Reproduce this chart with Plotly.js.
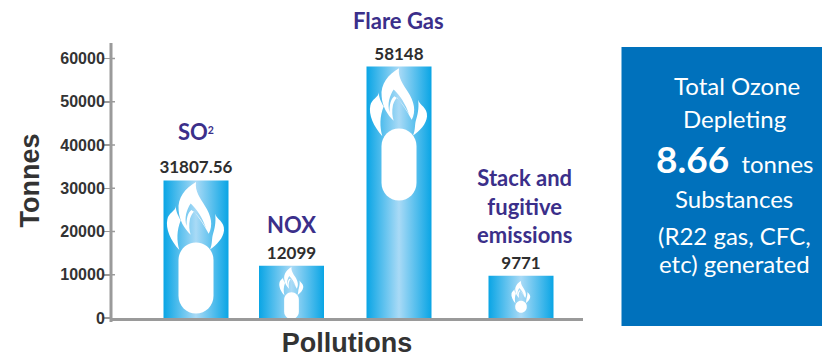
<!DOCTYPE html>
<html><head><meta charset="utf-8">
<script src="https://cdn.plot.ly/plotly-3.0.1.min.js"></script>
<style>html,body{margin:0;padding:0;background:#fff}</style></head>
<body><div id="chart" style="width:822px;height:358px"></div>
<script>
// Data
const categories = ['<b>SO<span style="font-size:15px"><sup>2</sup></span></b>', '<b>NOX</b>', '<b>Flare Gas</b>', '<b>Stack and<br>fugitive<br>emissions</b>'];
const tonnes = [31807.56, 12099, 58148, 9771];
const tickValues = [0, 10000, 20000, 30000, 40000, 50000, 60000];
const panelLines = ['Total Ozone', 'Depleting',
  '<b><span style="font-size:37px">8.66</span></b>  tonnes',
  'Substances', '(R22 gas, CFC,', 'etc) generated'];

// Layout
const W = 822, H = 358, L = 111, R = 583, T = 43, B = 318;
const barCenters = [196, 291.5, 399, 521];
const labelX = [196, 291, 398, 524];
const labelBottomPx = [147, 240, 36, 250];
const iconScale = [1, 0.42, 1, 0.33];
const capsuleLen = [71, 64, 72, 36];
const iconOffset = [1, 1, 1, 5];
const panelY = [85, 118, 158, 198, 235, 263];
const panelX = [737, 734, 734, 734, 734, 734];
const yMax = 60000 * (B - T) / (B - 58.5);
const xp = v => (v - L) / (R - L), yp = v => (B - v) / (B - T);

// flame outlines are drawn in a local grid: 3 units = 1 px at full size, origin (108,18)
const flameParts = [
 [[108,20],[76,38,52,68,56,105],[58,135,72,158,92,178],[88,165,86,150,90,130],[94,118,98,112,102,108],[118,128,132,148,146,175],[160,150,154,120,134,90],[122,70,104,48,108,20]],
 [[92,84],[80,102,72,128,80,152],[78,130,84,112,94,104],[108,112,125,134,138,158],[128,128,110,100,92,84]],
 [[48,92],[46,108,26,112,22,132],[16,160,32,195,58,224],[50,195,50,165,62,135],[54,120,46,105,48,92]],
 [[165,115],[170,132,194,138,192,165],[190,188,170,208,150,222],[158,205,154,190,160,172],[166,155,168,130,165,115]]
];
function flamePath(s, off) {
  const pt = (x, y) => ((x - 108) / 3 * s).toFixed(2) + ',' + (-off - (y - 18) / 3 * s).toFixed(2);
  return flameParts.map(p => p.map((c, i) => {
    if (i === 0) return 'M' + pt(c[0], c[1]);
    return 'C' + pt(c[0], c[1]) + ' ' + pt(c[2], c[3]) + ' ' + pt(c[4], c[5]);
  }).join(' ') + ' Z').join(' ');
}
function capsulePath(s, off, len) {
  const r = 17.5 * s, t = -off - 61 * s, b = t - len, k = r * 0.5523;
  const f = v => v.toFixed(2);
  return `M${f(-r)},${f(t - r)} C${f(-r)},${f(t - r + k)} ${f(-k)},${f(t)} 0,${f(t)} ` +
    `C${f(k)},${f(t)} ${f(r)},${f(t - r + k)} ${f(r)},${f(t - r)} ` +
    `L${f(r)},${f(b + r)} C${f(r)},${f(b + r - k)} ${f(k)},${f(b)} 0,${f(b)} ` +
    `C${f(-k)},${f(b)} ${f(-r)},${f(b + r - k)} ${f(-r)},${f(b + r)} Z`;
}

const shapes = [];
shapes.push({type:'rect', xref:'paper', yref:'paper', x0:xp(621.5), x1:xp(822), y0:yp(326), y1:yp(47),
  fillcolor:'#0071bc', line:{width:0}, layer:'below'});
tickValues.slice(1).forEach(v => shapes.push({type:'line', xref:'paper', yref:'y', x0:0, x1:xp(115), y0:v, y1:v,
  line:{color:'#9a9a9a', width:1.5}}));
shapes.push({type:'line', xref:'paper', yref:'paper', x0:0, x1:0, y0:yp(322), y1:1, line:{color:'#9a9a9a', width:3}});
tonnes.forEach((v, i) => {
  const base = {type:'path', xref:'x', yref:'y', xsizemode:'pixel', ysizemode:'pixel',
    xanchor:barCenters[i], yanchor:v, fillcolor:'#ffffff', line:{width:0}, layer:'above', fillrule:'evenodd'};
  shapes.push(Object.assign({}, base, {path:flamePath(iconScale[i], iconOffset[i])}));
  const s = iconScale[i];
  const len = i === 0 || i === 2 ? capsuleLen[i] : capsuleLen[i] * s;
  shapes.push(Object.assign({}, base, {path:capsulePath(s, iconOffset[i], len)}));
});

const annotations = categories.map((c, i) => ({
  text:c, xref:'x', yref:'paper', x:labelX[i], y:yp(labelBottomPx[i]), xanchor:'center', yanchor:'bottom',
  showarrow:false, align:'center', font:{family:'Lato', size:22, color:'#3b2f8a'}
}));
panelLines.forEach((t, i) => annotations.push({
  text:t, xref:'paper', yref:'paper', x:xp(panelX[i]), y:yp(panelY[i]), xanchor:'center', yanchor:'middle',
  showarrow:false, font:{family:'Lato', size:24, color:'#ffffff'}
}));

const axisFont = {family:'Liberation Sans', size:16, color:'#333333', weight:700};
const data = [{type:'bar', x:barCenters, y:tonnes, width:65, marker:{color:'#5bbcec', line:{width:0}},
  text:tonnes.map(String), textposition:'outside', cliponaxis:false, constraintext:'none',
  textfont:{family:'Lato', size:17, color:'#2e2e2e', weight:700}, hoverinfo:'skip'}];
const layout = {
  width:W, height:H, margin:{l:L, r:W - R, t:T, b:H - B, pad:0},
  paper_bgcolor:'#fff', plot_bgcolor:'#fff', showlegend:false, shapes, annotations,
  xaxis:{range:[L, R], showticklabels:false, ticks:'', showgrid:false, zeroline:false, showline:true,
    linecolor:'#9a9a9a', linewidth:3, fixedrange:true,
    title:{text:'Pollutions', standoff:18, font:{family:'Liberation Sans', size:27, color:'#333333', weight:700}}},
  yaxis:{range:[0, yMax], tickvals:tickValues, ticktext:tickValues.map(String), tickfont:axisFont, ticks:'outside',
    ticklen:6, tickwidth:1.5, tickcolor:'#9a9a9a', ticklabelstandoff:-4, showgrid:false, zeroline:false, showline:false, fixedrange:true,
    title:{text:'Tonnes', standoff:12, font:{family:'Liberation Sans', size:27, color:'#333333', weight:700}}}
};
Plotly.newPlot('chart', data, layout, {displayModeBar:false, staticPlot:true}).then(gd => {
  const svg = gd.querySelector('.main-svg');
  const ns = 'http://www.w3.org/2000/svg';
  const defs = svg.querySelector('defs');
  const g = document.createElementNS(ns, 'linearGradient');
  g.setAttribute('id', 'barGrad');
  [['0', '#09a5e5'], ['0.5', '#a9daf6'], ['1', '#09a5e5']].forEach(([o, c]) => {
    const st = document.createElementNS(ns, 'stop');
    st.setAttribute('offset', o); st.setAttribute('stop-color', c); g.appendChild(st);
  });
  defs.appendChild(g);
  gd.querySelectorAll('.barlayer .point path').forEach(p => { p.style.fill = 'url(#barGrad)'; });
});
</script></body></html>
